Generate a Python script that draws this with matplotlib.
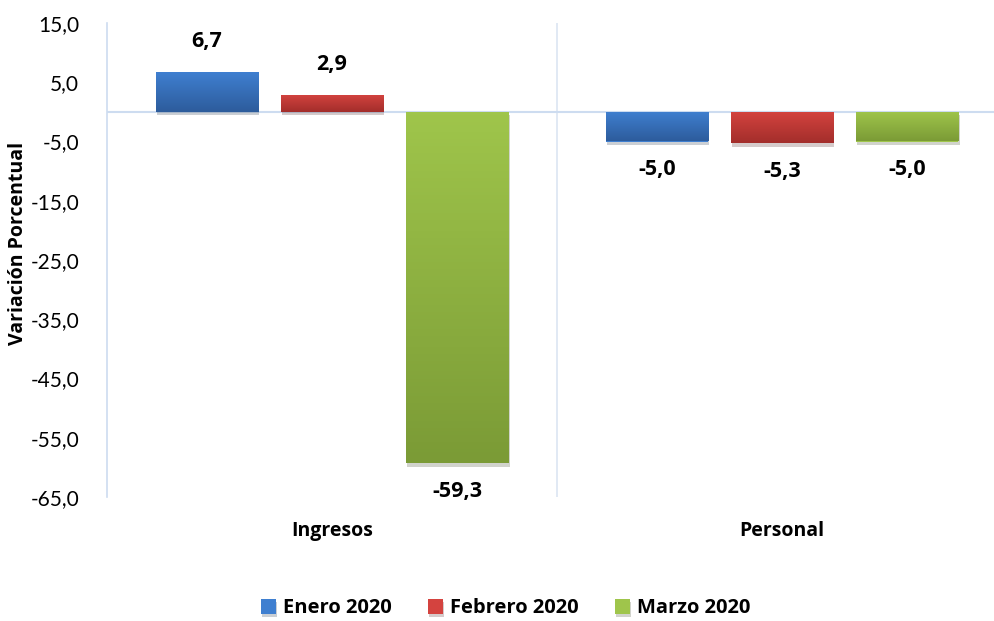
import matplotlib.pyplot as plt
import numpy as np
from matplotlib import patheffects as pe

# Datos
categorias = ['Ingresos', 'Personal']
series = ['Enero 2020', 'Febrero 2020', 'Marzo 2020']
valores = {
    'Enero 2020': [6.7, -5.0],
    'Febrero 2020': [2.9, -5.3],
    'Marzo 2020': [-59.3, -5.0],
}
yticks = [15, 5, -5, -15, -25, -35, -45, -55, -65]

# Colores (arriba, abajo) para el degradado
colores = {
    'Enero 2020': ('#3f7fd0', '#2d5c9c'),
    'Febrero 2020': ('#d4433f', '#a32e2b'),
    'Marzo 2020': ('#9fc54b', '#7b9b36'),
}

plt.rcParams['font.family'] = ['Lato', 'DejaVu Sans']
negrita = ['Open Sans', 'DejaVu Sans']

fig = plt.figure(figsize=(9.95, 6.21), dpi=100)
ax = fig.add_axes([107 / 995, 1 - 497 / 621, 888 / 995, 474 / 621])

ancho = 0.227
paso = 0.278
x = np.arange(len(categorias))
ax.set_xlim(-0.5, -0.5 + 888 / 450)
ax.set_ylim(-65, 15)

grad = np.linspace(0, 1, 100).reshape(-1, 1)
for i, s in enumerate(series):
    pos = x + (i - 1) * paso
    arriba, abajo = colores[s]
    barras = ax.bar(pos, valores[s], ancho, color=arriba, zorder=3,
                    path_effects=[pe.SimplePatchShadow(offset=(1, -2.5), alpha=0.22),
                                  pe.Normal()],
                    label=s)
    cmap = plt.matplotlib.colors.LinearSegmentedColormap.from_list('g', [abajo, arriba])
    for b, v in zip(barras, valores[s]):
        x0 = b.get_x()
        y0, y1 = sorted([0, v])
        im = ax.imshow(grad, extent=[x0, x0 + ancho, y0, y1], origin='lower',
                       cmap=cmap, aspect='auto', zorder=4)
        im.set_clip_path(b)
        texto = f'{v:.1f}'.replace('.', ',')
        desp = 22 if v >= 0 else -20
        ax.annotate(texto, (x0 + ancho / 2, v), xytext=(0, desp),
                    textcoords='offset points', ha='center', va='center',
                    fontsize=15.5, fontweight='bold', family=negrita, zorder=5)

# Líneas del eje
ax.axhline(0, color='#cddcf0', lw=1.5, zorder=2)
ax.axvline(0.5, color='#dbe5f2', lw=1.2, zorder=1)
for sp in ['top', 'right', 'bottom']:
    ax.spines[sp].set_visible(False)
ax.spines['left'].set_color('#cddcf0')
ax.spines['left'].set_linewidth(1.2)

ax.set_yticks(yticks)
ax.set_yticklabels([f'{t:.1f}'.replace('.', ',') for t in yticks], fontsize=15)
ax.tick_params(axis='y', length=0, pad=20)
ax.set_xticks(x)
ax.set_xticklabels(categorias, fontsize=14, fontweight='bold', family=negrita)
ax.tick_params(axis='x', length=0, pad=17)
fig.text(18 / 995, 1 - 243 / 621, 'Variación Porcentual', rotation=90,
         ha='center', va='center', fontsize=14, fontweight='bold', family=negrita)

ax.legend(loc='center', bbox_to_anchor=(0.5 * 995 / 888 - 107 / 888 + 8 / 888, -0.235),
          ncol=3, frameon=False, handlelength=0.75, handleheight=0.75,
          handletextpad=0.35, columnspacing=1.8,
          prop={'size': 14.5, 'weight': 'bold', 'family': negrita})

plt.savefig('out.png', dpi=100)
plt.close()
